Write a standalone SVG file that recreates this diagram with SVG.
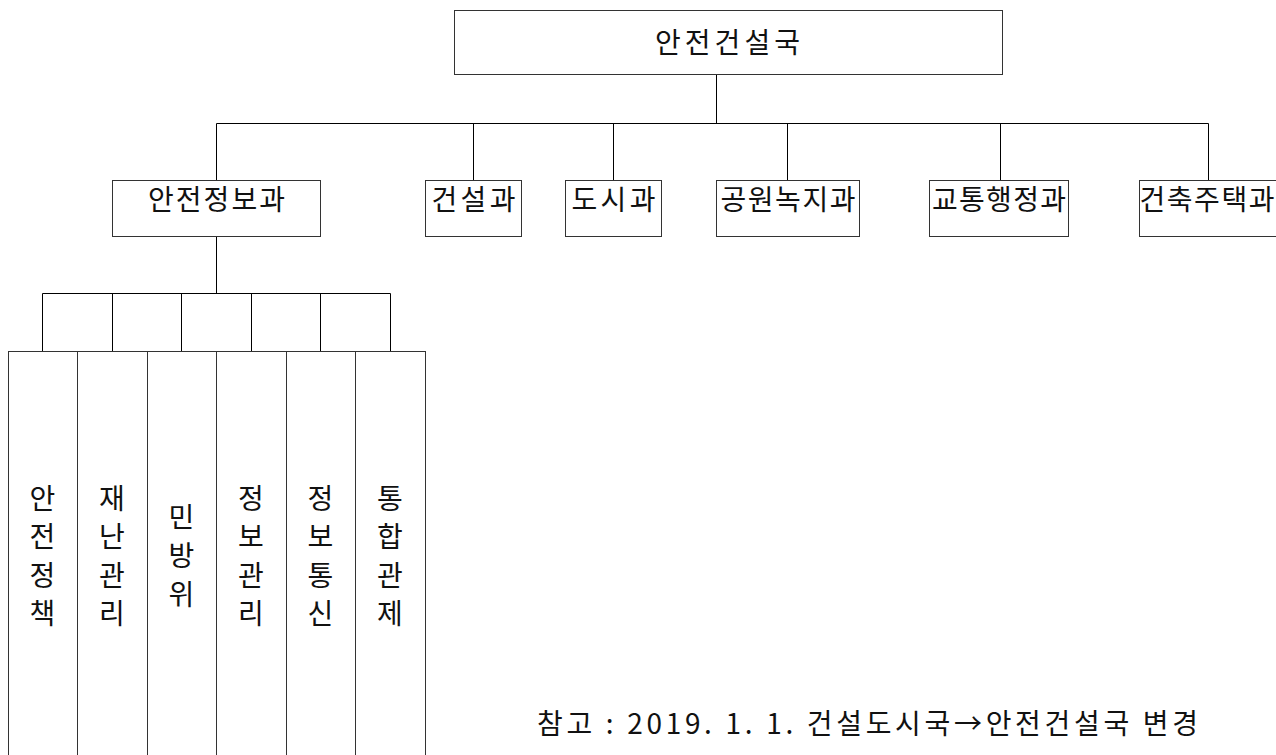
<svg xmlns="http://www.w3.org/2000/svg" width="1276" height="755" viewBox="0 0 1276 755">
<style>
.box{fill:#fff;stroke:#333;stroke-width:1}
.ln{fill:none;stroke:#000;stroke-width:1}
text{font-family:"Noto Sans CJK KR","Noto Sans",sans-serif;font-size:28px;fill:#111}
.c{text-anchor:middle}
</style>
<rect width="1276" height="755" fill="#fff"/>
<g id="connectors">
<path class="ln" d="M716.5 74.5V123.5M216.5 123.5H1208.5M216.5 123.5V180.5M473.5 123.5V180.5M613.5 123.5V180.5M787.5 123.5V180.5M1000.5 123.5V180.5M1208.5 123.5V180.5"/>
<path class="ln" d="M216.5 236.5V293.5M42.5 293.5H390.5M42.5 293.5V351.5M112.5 293.5V351.5M181.5 293.5V351.5M251.5 293.5V351.5M320.5 293.5V351.5M390.5 293.5V351.5"/>
</g>
<g id="n-root"><rect class="box" x="454.5" y="10.5" width="548" height="64"/><text class="c" x="727.5" y="52.5" textLength="145" lengthAdjust="spacing">안전건설국</text></g>
<g id="n-anjeonjeongbo"><rect class="box" x="112.5" y="180.5" width="208" height="56"/><text class="c" x="216.5" y="210" textLength="137" lengthAdjust="spacing">안전정보과</text></g>
<g id="n-geonseol"><rect class="box" x="425.5" y="180.5" width="96" height="56"/><text class="c" x="473.5" y="210" textLength="84" lengthAdjust="spacing">건설과</text></g>
<g id="n-dosi"><rect class="box" x="565.5" y="180.5" width="96" height="56"/><text class="c" x="613.5" y="210" textLength="84" lengthAdjust="spacing">도시과</text></g>
<g id="n-gongwon"><rect class="box" x="716.5" y="180.5" width="143" height="56"/><text class="c" x="788" y="210" textLength="135" lengthAdjust="spacing">공원녹지과</text></g>
<g id="n-gyotong"><rect class="box" x="929.5" y="180.5" width="139" height="56"/><text class="c" x="999" y="210" textLength="134" lengthAdjust="spacing">교통행정과</text></g>
<g id="n-geonchuk"><rect class="box" x="1139.5" y="180.5" width="140" height="56"/><text class="c" x="1207" y="210" textLength="135" lengthAdjust="spacing">건축주택과</text></g>
<g id="n-s1"><rect class="box" x="8.5" y="351.5" width="69" height="410"/><text class="c" x="42.5"><tspan x="42.5" y="509">안</tspan><tspan x="42.5" y="547.3">전</tspan><tspan x="42.5" y="585.6">정</tspan><tspan x="42.5" y="623.9">책</tspan></text></g>
<g id="n-s2"><rect class="box" x="77.5" y="351.5" width="70" height="410"/><text class="c" x="112"><tspan x="112" y="509">재</tspan><tspan x="112" y="547.3">난</tspan><tspan x="112" y="585.6">관</tspan><tspan x="112" y="623.9">리</tspan></text></g>
<g id="n-s3"><rect class="box" x="147.5" y="351.5" width="69" height="410"/><text class="c" x="181.5"><tspan x="181.5" y="528">민</tspan><tspan x="181.5" y="566.3">방</tspan><tspan x="181.5" y="604.6">위</tspan></text></g>
<g id="n-s4"><rect class="box" x="216.5" y="351.5" width="70" height="410"/><text class="c" x="251"><tspan x="251" y="509">정</tspan><tspan x="251" y="547.3">보</tspan><tspan x="251" y="585.6">관</tspan><tspan x="251" y="623.9">리</tspan></text></g>
<g id="n-s5"><rect class="box" x="286.5" y="351.5" width="69" height="410"/><text class="c" x="320.5"><tspan x="320.5" y="509">정</tspan><tspan x="320.5" y="547.3">보</tspan><tspan x="320.5" y="585.6">통</tspan><tspan x="320.5" y="623.9">신</tspan></text></g>
<g id="n-s6"><rect class="box" x="355.5" y="351.5" width="70" height="410"/><text class="c" x="390"><tspan x="390" y="509">통</tspan><tspan x="390" y="547.3">합</tspan><tspan x="390" y="585.6">관</tspan><tspan x="390" y="623.9">제</tspan></text></g>
<text id="note" x="537" y="733.5" textLength="661" lengthAdjust="spacing">참고 : 2019. 1. 1. 건설도시국→안전건설국 변경</text>
</svg>
